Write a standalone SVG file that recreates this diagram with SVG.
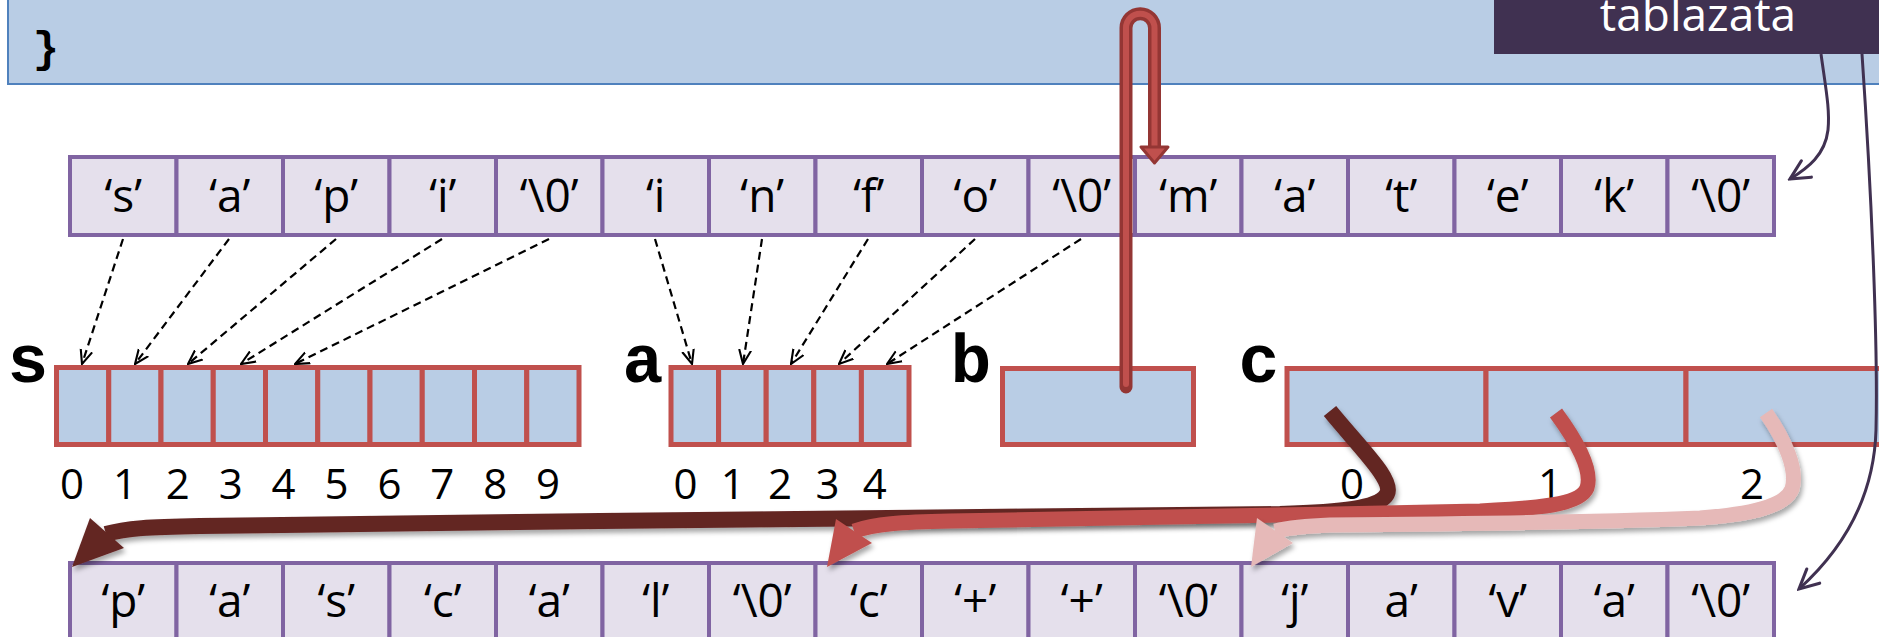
<svg xmlns="http://www.w3.org/2000/svg" width="1879" height="637" viewBox="0 0 1879 637">
<style>
.pc{fill:#E5E0EC;stroke:#8064A2;stroke-width:4}
.rc{fill:#B9CDE5;stroke:#C0504D;stroke-width:5}
.ct{font-family:"Open Sans","Noto Sans",sans-serif;font-size:46px;fill:#000;text-anchor:middle}
.dg{font-family:"Open Sans","Noto Sans",sans-serif;font-size:42px;fill:#000;text-anchor:middle}
.lb{font-family:"Liberation Mono","DejaVu Sans Mono",monospace;font-weight:bold;font-size:68px;fill:#000;text-anchor:middle}
.da{fill:none;stroke:#000;stroke-width:2.2;stroke-dasharray:8 5;marker-end:url(#va)}
.pl{fill:none;stroke:#403151;stroke-width:3;marker-end:url(#vp)}
</style>
<defs>
<marker id="va" viewBox="0 0 10 10" refX="9.5" refY="5" markerWidth="15" markerHeight="15" markerUnits="userSpaceOnUse" orient="auto">
<path d="M0,1 L9.5,5 L0,9" fill="none" stroke="#000" stroke-width="1.4"/>
</marker>
<marker id="vp" viewBox="0 0 10 10" refX="9" refY="5" markerWidth="8" markerHeight="8" orient="auto">
<path d="M1,1 L9,5 L1,9" fill="none" stroke="#403151" stroke-width="1.3" stroke-linecap="round"/>
</marker>
<filter id="sh" x="-10%" y="-30%" width="120%" height="180%">
<feDropShadow dx="2" dy="4" stdDeviation="2.5" flood-color="#000" flood-opacity="0.35"/>
</filter>
</defs>

<g id="banner">
<rect x="8" y="-5" width="1900" height="89" fill="#B9CDE5" stroke="#4F81BD" stroke-width="2"/>
<text x="46" y="62" class="lb" style="font-size:44px">}</text>
</g>

<g id="tablazata">
<rect x="1494" y="-5" width="400" height="59" fill="#403151"/>
<text x="1698" y="31" class="ct" style="fill:#fff">tablazata</text>
</g>

<g id="top-row">
<rect class="pc" x="70" y="157" width="106.5" height="78"/>
<rect class="pc" x="176.5" y="157" width="106.5" height="78"/>
<rect class="pc" x="283" y="157" width="106.5" height="78"/>
<rect class="pc" x="389.5" y="157" width="106.5" height="78"/>
<rect class="pc" x="496" y="157" width="106.5" height="78"/>
<rect class="pc" x="602.5" y="157" width="106.5" height="78"/>
<rect class="pc" x="709" y="157" width="106.5" height="78"/>
<rect class="pc" x="815.5" y="157" width="106.5" height="78"/>
<rect class="pc" x="922" y="157" width="106.5" height="78"/>
<rect class="pc" x="1028.5" y="157" width="106.5" height="78"/>
<rect class="pc" x="1135" y="157" width="106.5" height="78"/>
<rect class="pc" x="1241.5" y="157" width="106.5" height="78"/>
<rect class="pc" x="1348" y="157" width="106.5" height="78"/>
<rect class="pc" x="1454.5" y="157" width="106.5" height="78"/>
<rect class="pc" x="1561" y="157" width="106.5" height="78"/>
<rect class="pc" x="1667.5" y="157" width="106.5" height="78"/>
<text class="ct" x="123.25" y="212">‘s’</text>
<text class="ct" x="229.75" y="212">‘a’</text>
<text class="ct" x="336.25" y="212">‘p’</text>
<text class="ct" x="442.75" y="212">‘i’</text>
<text class="ct" x="549.25" y="212">‘\0’</text>
<text class="ct" x="655.75" y="212">‘i</text>
<text class="ct" x="762.25" y="212">‘n’</text>
<text class="ct" x="868.75" y="212">‘f’</text>
<text class="ct" x="975.25" y="212">‘o’</text>
<text class="ct" x="1081.75" y="212">‘\0’</text>
<text class="ct" x="1188.25" y="212">‘m’</text>
<text class="ct" x="1294.75" y="212">‘a’</text>
<text class="ct" x="1401.25" y="212">‘t’</text>
<text class="ct" x="1507.75" y="212">‘e’</text>
<text class="ct" x="1614.25" y="212">‘k’</text>
<text class="ct" x="1720.75" y="212">‘\0’</text>
</g>

<g id="bottom-row">
<rect class="pc" x="70" y="563" width="106.5" height="90"/>
<rect class="pc" x="176.5" y="563" width="106.5" height="90"/>
<rect class="pc" x="283" y="563" width="106.5" height="90"/>
<rect class="pc" x="389.5" y="563" width="106.5" height="90"/>
<rect class="pc" x="496" y="563" width="106.5" height="90"/>
<rect class="pc" x="602.5" y="563" width="106.5" height="90"/>
<rect class="pc" x="709" y="563" width="106.5" height="90"/>
<rect class="pc" x="815.5" y="563" width="106.5" height="90"/>
<rect class="pc" x="922" y="563" width="106.5" height="90"/>
<rect class="pc" x="1028.5" y="563" width="106.5" height="90"/>
<rect class="pc" x="1135" y="563" width="106.5" height="90"/>
<rect class="pc" x="1241.5" y="563" width="106.5" height="90"/>
<rect class="pc" x="1348" y="563" width="106.5" height="90"/>
<rect class="pc" x="1454.5" y="563" width="106.5" height="90"/>
<rect class="pc" x="1561" y="563" width="106.5" height="90"/>
<rect class="pc" x="1667.5" y="563" width="106.5" height="90"/>
<text class="ct" x="123.25" y="617">‘p’</text>
<text class="ct" x="229.75" y="617">‘a’</text>
<text class="ct" x="336.25" y="617">‘s’</text>
<text class="ct" x="442.75" y="617">‘c’</text>
<text class="ct" x="549.25" y="617">‘a’</text>
<text class="ct" x="655.75" y="617">‘l’</text>
<text class="ct" x="762.25" y="617">‘\0’</text>
<text class="ct" x="868.75" y="617">‘c’</text>
<text class="ct" x="975.25" y="617">‘+’</text>
<text class="ct" x="1081.75" y="617">‘+’</text>
<text class="ct" x="1188.25" y="617">‘\0’</text>
<text class="ct" x="1294.75" y="617">‘j’</text>
<text class="ct" x="1401.25" y="617">a’</text>
<text class="ct" x="1507.75" y="617">‘v’</text>
<text class="ct" x="1614.25" y="617">‘a’</text>
<text class="ct" x="1720.75" y="617">‘\0’</text>
</g>

<g id="array-s">
<text class="lb" x="28" y="382">s</text>
<rect class="rc" x="56.5" y="367.5" width="52.25" height="77"/>
<rect class="rc" x="108.75" y="367.5" width="52.25" height="77"/>
<rect class="rc" x="161" y="367.5" width="52.25" height="77"/>
<rect class="rc" x="213.25" y="367.5" width="52.25" height="77"/>
<rect class="rc" x="265.5" y="367.5" width="52.25" height="77"/>
<rect class="rc" x="317.75" y="367.5" width="52.25" height="77"/>
<rect class="rc" x="370" y="367.5" width="52.25" height="77"/>
<rect class="rc" x="422.25" y="367.5" width="52.25" height="77"/>
<rect class="rc" x="474.5" y="367.5" width="52.25" height="77"/>
<rect class="rc" x="526.75" y="367.5" width="52.25" height="77"/>
<text class="dg" x="72" y="499">0</text>
<text class="dg" x="124.9" y="499">1</text>
<text class="dg" x="177.8" y="499">2</text>
<text class="dg" x="230.7" y="499">3</text>
<text class="dg" x="283.6" y="499">4</text>
<text class="dg" x="336.5" y="499">5</text>
<text class="dg" x="389.4" y="499">6</text>
<text class="dg" x="442.3" y="499">7</text>
<text class="dg" x="495.2" y="499">8</text>
<text class="dg" x="548.1" y="499">9</text>
</g>

<g id="array-a">
<text class="lb" x="643" y="382">a</text>
<rect class="rc" x="671" y="367.5" width="47.6" height="77"/>
<rect class="rc" x="718.6" y="367.5" width="47.6" height="77"/>
<rect class="rc" x="766.2" y="367.5" width="47.6" height="77"/>
<rect class="rc" x="813.8" y="367.5" width="47.6" height="77"/>
<rect class="rc" x="861.4" y="367.5" width="47.6" height="77"/>
<text class="dg" x="685.5" y="499">0</text>
<text class="dg" x="732.8" y="499">1</text>
<text class="dg" x="780.1" y="499">2</text>
<text class="dg" x="827.4" y="499">3</text>
<text class="dg" x="874.7" y="499">4</text>
</g>

<g id="var-b">
<text class="lb" x="971" y="382">b</text>
<rect class="rc" x="1002.5" y="368.5" width="191" height="76"/>
</g>

<g id="array-c">
<text class="lb" x="1259" y="382">c</text>
<rect class="rc" x="1287" y="368.5" width="199" height="76"/>
<rect class="rc" x="1486" y="368.5" width="200" height="76"/>
<rect class="rc" x="1686" y="368.5" width="210" height="76"/>
<text class="dg" x="1352" y="499">0</text>
<text class="dg" x="1550" y="499">1</text>
<text class="dg" x="1752" y="499">2</text>
</g>

<g id="connectors">
<path class="da" d="M123,239 L82,364"/>
<path class="da" d="M229,239 L135,364"/>
<path class="da" d="M336,239 L188,364"/>
<path class="da" d="M442,239 L241,364"/>
<path class="da" d="M549,239 L295,364"/>
<path class="da" d="M655,239 L692,364"/>
<path class="da" d="M762,239 L743,364"/>
<path class="da" d="M868,239 L791,364"/>
<path class="da" d="M975,239 L839,364"/>
<path class="da" d="M1081,239 L887,364"/>

<g id="b-pointer">
<path d="M1126,387 L1126,28 A14.25,14.25 0 0 1 1154.5,28 L1154.5,150" fill="none" stroke="#943634" stroke-width="13" stroke-linecap="round"/>
<path d="M1126,384 L1126,28 A14.25,14.25 0 0 1 1154.5,28 L1154.5,150" fill="none" stroke="#C0504D" stroke-width="6" stroke-linecap="round"/>
<polygon points="1141,147 1168,147 1154.5,163" fill="#C0504D" stroke="#943634" stroke-width="3" stroke-linejoin="round"/>
</g>

<g id="c0-pointer" filter="url(#sh)">
<path d="M1330,411 C1362,450 1394,480 1387,494 C1379,509 1340,512 1280,514 C1100,518 900,519 600,521 L200,526 C150,527 126,528 106,534" fill="none" stroke="#632523" stroke-width="16"/>
<polygon points="72,567 90,518 124,548" fill="#632523"/>
</g>
<g id="c1-pointer" filter="url(#sh)">
<path d="M1556,413 C1576,440 1593,470 1587,488 C1580,505 1540,508 1480,511 C1300,515 1100,518 950,521 C900,522 875,524 854,531" fill="none" stroke="#C0504D" stroke-width="15"/>
<polygon points="827,567 836,519 872,543" fill="#C0504D"/>
</g>
<g id="c2-pointer" filter="url(#sh)">
<path d="M1766,413 C1785,440 1798,470 1792,489 C1784,509 1740,515 1700,518 C1600,522 1450,524 1330,525 C1305,526 1292,527 1275,531" fill="none" stroke="#E6B9B8" stroke-width="15"/>
<polygon points="1251,567 1257,518 1293,543" fill="#E6B9B8"/>
</g>

<path class="pl" d="M1821,54 C1826,90 1830,110 1828,130 C1825,155 1808,168 1790,179"/>
<path class="pl" d="M1862,54 C1872,200 1878,350 1876,430 C1874,500 1842,550 1799,589"/>
</g>
</svg>
